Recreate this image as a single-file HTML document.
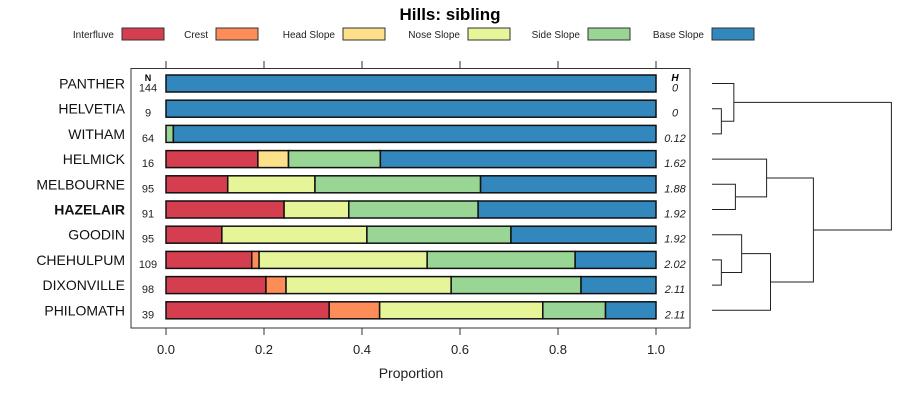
<!DOCTYPE html>
<html><head><meta charset="utf-8">
<style>
body{margin:0;background:#fff;}
svg{display:block;font-family:"Liberation Sans",sans-serif;}
</style></head>
<body>
<svg id="c" width="900" height="400" viewBox="0 0 900 400"></svg>
<script>
const categories=["PANTHER","HELVETIA","WITHAM","HELMICK","MELBOURNE","HAZELAIR","GOODIN","CHEHULPUM","DIXONVILLE","PHILOMATH"];
const seriesNames=["Interfluve","Crest","Head Slope","Nose Slope","Side Slope","Base Slope"];
const colors=["#D53E4F","#FC8D59","#FEE08B","#E6F598","#99D594","#3288BD"];
const interfluve=[0,0,0,0.1875,0.126,0.241,0.114,0.175,0.204,0.333];
const crest=[0,0,0,0,0,0,0,0.015,0.041,0.103];
const headSlope=[0,0,0,0.0625,0,0,0,0,0,0];
const noseSlope=[0,0,0,0,0.178,0.132,0.296,0.343,0.337,0.333];
const sideSlope=[0,0,0.015,0.1875,0.338,0.264,0.294,0.302,0.265,0.128];
const baseSlope=[1,1,0.985,0.5625,0.358,0.363,0.296,0.165,0.153,0.103];
const nValues=["144","9","64","16","95","91","95","109","98","39"];
const hValues=["0","0","0.12","1.62","1.88","1.92","1.92","2.02","2.11","2.11"];
const xTicks=[0,0.2,0.4,0.6,0.8,1.0];
const xTickLabels=["0.0","0.2","0.4","0.6","0.8","1.0"];
// dendrogram merges: [a,b,height] where a,b are leaf indices (>=0) or -(k+1) for merge k
const merges=[[1,2,0.12],[0,-1,0.28],[4,5,0.3],[3,-3,0.7],[7,8,0.12],[6,-5,0.38],[-6,9,0.75],[-4,-7,1.3],[-2,-8,2.3]];

const svg=document.getElementById('c');
const NS="http://www.w3.org/2000/svg";
function el(t,a,p){const e=document.createElementNS(NS,t);for(const k in a)e.setAttribute(k,a[k]);(p||svg).appendChild(e);return e;}
const x=v=>166+v*490;
const y=i=>83.5+i*25.2;
const dx=h=>712+h*78;

const title=el('text',{x:450,y:20,'text-anchor':'middle','font-size':17,'font-weight':'bold'});
title.textContent="Hills: sibling";



// legend
const lgX=[114,208,335,460,580,704];
seriesNames.forEach((s,k)=>{
  const g=el('g',{});
  
  
  const t=el('text',{x:lgX[k],y:38,'text-anchor':'end','font-size':10,fill:'#222'},g);t.textContent=s;
  el('rect',{x:lgX[k]+8,y:28,width:42,height:12,fill:colors[k],stroke:'#333','stroke-width':1},g);
});

// panel
const panel=el('rect',{x:131,y:68.5,width:559,height:259.5,fill:'none',stroke:'#333','stroke-width':1});



xTicks.forEach((v,k)=>{
  el('line',{x1:x(v),x2:x(v),y1:61,y2:68,stroke:'#333'});
  el('line',{x1:x(v),x2:x(v),y1:328,y2:335,stroke:'#333'});
  const t=el('text',{x:x(v),y:354,'text-anchor':'middle','font-size':13,fill:'#222'});t.textContent=xTickLabels[k];
  
  
});
const xt=el('text',{x:411,y:378,'text-anchor':'middle','font-size':14,fill:'#222'});xt.textContent="Proportion";



let nh=el('text',{x:148,y:81,'text-anchor':'middle','font-size':9,'font-weight':'bold'});nh.textContent="N";
let hh=el('text',{x:675,y:81,'text-anchor':'middle','font-size':10,'font-weight':'bold','font-style':'italic'});hh.textContent="H";

const series=[interfluve,crest,headSlope,noseSlope,sideSlope,baseSlope];
categories.forEach((c,i)=>{
  const cy=y(i);
  const lab=el('text',{x:125,y:cy+5,'text-anchor':'end','font-size':14,fill:'#111','font-weight':c==="HAZELAIR"?'bold':'normal'});
  lab.textContent=c;
  
  
  const n=el('text',{x:148,y:cy+8,'text-anchor':'middle','font-size':11,fill:'#222'});n.textContent=nValues[i];
  const h=el('text',{x:675,y:cy+8,'text-anchor':'middle','font-size':11,'font-style':'italic',fill:'#222'});h.textContent=hValues[i];
  let acc=0;
  series.forEach((s,k)=>{
    const v=s[i];
    if(v>0){
      const r=el('rect',{x:x(acc),y:cy-8.5,width:x(acc+v)-x(acc),height:17,fill:colors[k],stroke:'#111','stroke-width':1.5});
      
      
    }
    acc+=v;
  });
});

// dendrogram
const pos=[];
merges.forEach((m,k)=>{
  const pts=m.slice(0,2).map(a=>a>=0?{x:712,y:y(a)}:pos[-a-1]);
  const hx=dx(m[2]);
  const p=el('path',{d:`M${pts[0].x},${pts[0].y}H${hx}V${pts[1].y}H${pts[1].x}`,fill:'none',stroke:'#222','stroke-width':1});
  
  
  pos.push({x:hx,y:(pts[0].y+pts[1].y)/2});
});
</script>
</body></html>
